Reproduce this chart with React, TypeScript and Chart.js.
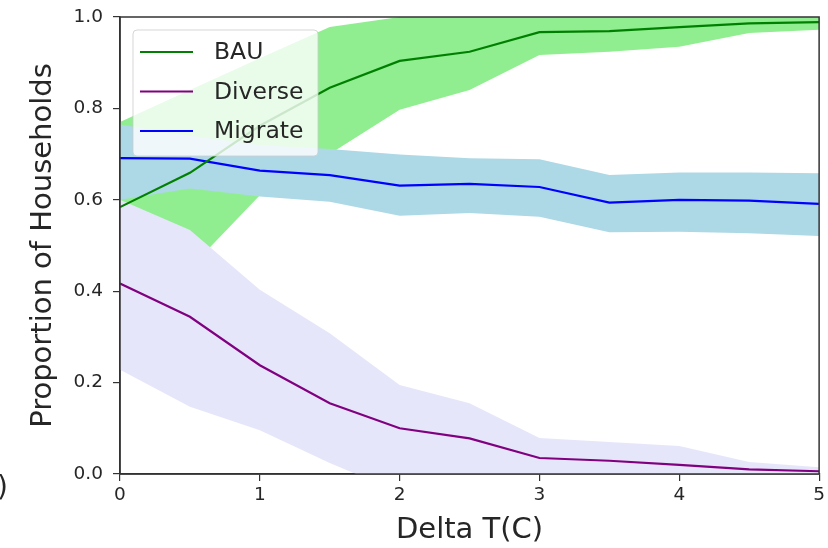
import React, { useEffect, useRef } from "react";
import { Chart, registerables } from "chart.js";

Chart.register(...registerables);

// ---- data ----
const deltaT = [0, 0.5, 1, 1.5, 2, 2.5, 3, 3.5, 4, 4.5, 5];

const bauMean = [0.584, 0.659, 0.762, 0.845, 0.904, 0.924, 0.967, 0.969, 0.978, 0.986, 0.989];
const bauLow = [0.4, 0.45, 0.61, 0.7, 0.797, 0.84, 0.917, 0.924, 0.935, 0.965, 0.972];
const bauHigh = [0.77, 0.84, 0.91, 0.978, 1.0, 1.0, 1.0, 1.0, 1.0, 1.0, 1.0];

const diverseMean = [0.417, 0.344, 0.238, 0.155, 0.1, 0.078, 0.035, 0.029, 0.02, 0.01, 0.006];
const diverseLow = [0.228, 0.147, 0.096, 0.024, -0.04, -0.05, -0.03, -0.03, -0.03, -0.01, 0.0];
const diverseHigh = [0.6, 0.534, 0.403, 0.308, 0.195, 0.155, 0.079, 0.07, 0.061, 0.026, 0.015];

const migrateMean = [0.691, 0.69, 0.664, 0.654, 0.631, 0.635, 0.628, 0.594, 0.6, 0.598, 0.591];
const migrateLow = [0.6, 0.625, 0.607, 0.596, 0.565, 0.571, 0.563, 0.529, 0.53, 0.527, 0.521];
const migrateHigh = [0.765, 0.74, 0.72, 0.711, 0.699, 0.691, 0.689, 0.654, 0.66, 0.66, 0.658];

const seriesNames = ["BAU", "Diverse", "Migrate"];
const lineColors = ["#008000", "#800080", "#0000ff"];
const bandColors = ["#90ee90", "#e6e6fa", "#add8e6"];

const xTitle = "Delta T(C)";
const yTitle = "Proportion of Households";

const FONT = '"DejaVu Sans", sans-serif';
const TEXT = "#262626";

const pts = (arr: number[]) => deltaT.map((x, i) => ({ x, y: arr[i] }));

const frameAndLegend = {
  id: "frameAndLegend",
  afterDatasetsDraw(chart: any) {
    const ctx = chart.ctx as CanvasRenderingContext2D;
    const { left, top, right, bottom } = chart.chartArea;
    ctx.save();
    // frame (all four spines)
    ctx.strokeStyle = "#333";
    ctx.lineWidth = 1.5;
    ctx.strokeRect(left, top, right - left, bottom - top);

    // legend box
    const bx = left + 13;
    const by = top + 13;
    const bw = 185;
    const bh = 126;
    const r = 4;
    ctx.beginPath();
    ctx.moveTo(bx + r, by);
    ctx.lineTo(bx + bw - r, by);
    ctx.quadraticCurveTo(bx + bw, by, bx + bw, by + r);
    ctx.lineTo(bx + bw, by + bh - r);
    ctx.quadraticCurveTo(bx + bw, by + bh, bx + bw - r, by + bh);
    ctx.lineTo(bx + r, by + bh);
    ctx.quadraticCurveTo(bx, by + bh, bx, by + bh - r);
    ctx.lineTo(bx, by + r);
    ctx.quadraticCurveTo(bx, by, bx + r, by);
    ctx.closePath();
    ctx.fillStyle = "rgba(255,255,255,0.8)";
    ctx.fill();
    ctx.strokeStyle = "rgba(204,204,204,0.8)";
    ctx.lineWidth = 1;
    ctx.stroke();

    ctx.font = `23.5px ${FONT}`;
    ctx.textAlign = "left";
    ctx.textBaseline = "middle";
    seriesNames.forEach((name, i) => {
      const yy = by + 22 + i * 39.5;
      ctx.strokeStyle = lineColors[i];
      ctx.lineWidth = 2.2;
      ctx.beginPath();
      ctx.moveTo(bx + 7, yy);
      ctx.lineTo(bx + 60, yy);
      ctx.stroke();
      ctx.fillStyle = TEXT;
      ctx.fillText(name, bx + 81, yy + 1);
    });
    ctx.restore();
  },
  afterDraw(chart: any) {
    const ctx = chart.ctx as CanvasRenderingContext2D;
    ctx.save();
    ctx.font = `28px ${FONT}`;
    ctx.fillStyle = TEXT;
    ctx.textAlign = "right";
    ctx.textBaseline = "middle";
    ctx.fillText(")", 8, 489);
    ctx.restore();
  },
};

export default function App() {
  const ref = useRef<HTMLCanvasElement>(null);

  useEffect(() => {
    if (!ref.current) return;
    const band = (lo: number[], hi: number[], color: string, order: number) => [
      {
        label: "_lo",
        data: pts(lo),
        borderWidth: 0,
        borderColor: "transparent",
        pointRadius: 0,
        fill: false,
        order,
        tension: 0,
      },
      {
        label: "_hi",
        data: pts(hi),
        borderWidth: 0,
        borderColor: "transparent",
        backgroundColor: color,
        pointRadius: 0,
        fill: "-1",
        order,
        tension: 0,
      },
    ];
    const means = [bauMean, diverseMean, migrateMean];
    const lineSets = means.map((m, i) => ({
      label: seriesNames[i],
      data: pts(m),
      borderColor: lineColors[i],
      backgroundColor: lineColors[i],
      borderWidth: 2.2,
      pointRadius: 0,
      fill: false,
      order: 0,
      tension: 0,
    }));

    const chart = new Chart(ref.current, {
      type: "line",
      data: {
        datasets: [
          ...lineSets,
          ...band(bauLow, bauHigh, bandColors[0], 30),
          ...band(diverseLow, diverseHigh, bandColors[1], 20),
          ...band(migrateLow, migrateHigh, bandColors[2], 10),
        ] as any,
      },
      options: {
        animation: false,
        responsive: false,
        devicePixelRatio: 1,
        layout: { padding: { top: 17, right: 8, left: 0, bottom: 0 } },
        plugins: {
          legend: { display: false },
          tooltip: { enabled: false },
          filler: { propagate: false },
        },
        scales: {
          x: {
            type: "linear",
            min: 0,
            max: 5,
            afterFit: (s: any) => {
              s.height = 74;
            },
            grid: { drawOnChartArea: false, tickLength: 7, color: "#333", lineWidth: 1.2 },
            border: { color: "#333", width: 1.5 },
            ticks: {
              stepSize: 1,
              padding: 3,
              color: TEXT,
              maxRotation: 0,
              font: { family: FONT, size: 18.5 },
            },
            title: {
              display: true,
              text: xTitle,
              color: TEXT,
              font: { family: FONT, size: 29 },
              padding: { top: 0, bottom: 0 },
            },
          },
          y: {
            type: "linear",
            min: 0,
            max: 1,
            afterFit: (s: any) => {
              s.width = 120;
            },
            grid: { drawOnChartArea: false, tickLength: 7, color: "#333", lineWidth: 1.2 },
            border: { color: "#333", width: 1.5 },
            ticks: {
              stepSize: 0.2,
              padding: 10,
              color: TEXT,
              font: { family: FONT, size: 18.5, lineHeight: 0.6 },
              callback: (v: any) => Number(v).toFixed(1),
            },
            title: {
              display: true,
              text: yTitle,
              color: TEXT,
              font: { family: FONT, size: 29 },
              padding: { top: 26.5, bottom: 0 },
            },
          },
        },
      },
      plugins: [frameAndLegend],
    });
    return () => chart.destroy();
  }, []);

  return (
    <div style={{ position: "absolute", left: 0, top: 0, width: 828, height: 548, background: "#fff" }}>
      <canvas ref={ref} width={828} height={548} style={{ width: 828, height: 548, display: "block" }} />
    </div>
  );
}
